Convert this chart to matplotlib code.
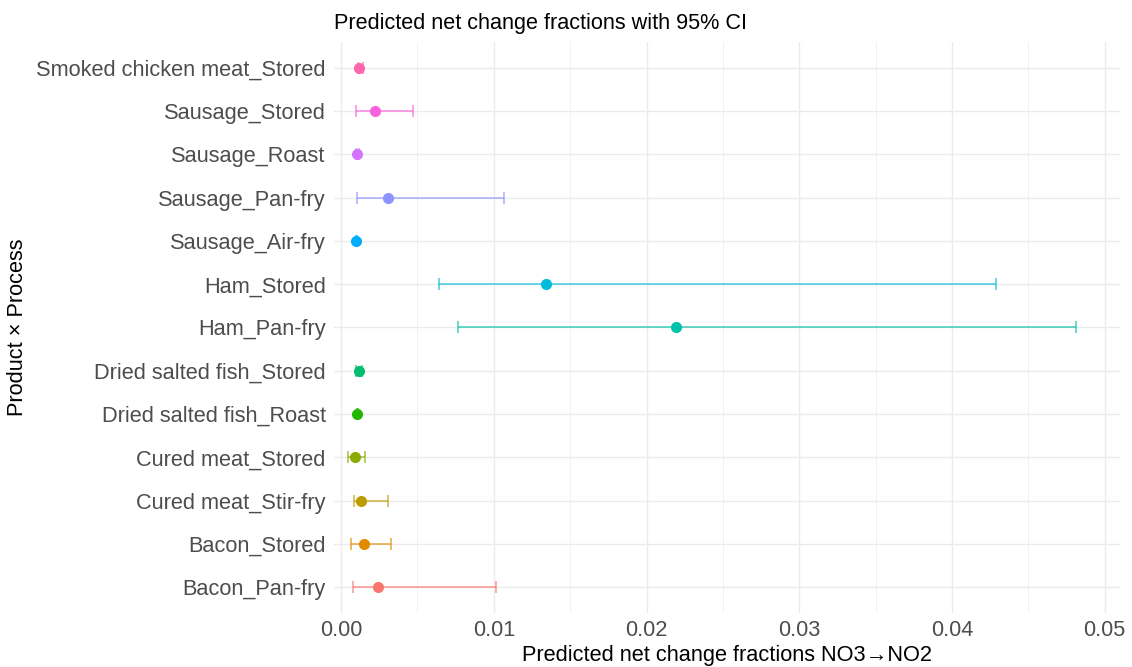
import matplotlib
matplotlib.use("Agg")
import matplotlib.pyplot as plt
from matplotlib.ticker import MultipleLocator

# Data (bottom to top)
categories = [
    "Bacon_Pan-fry", "Bacon_Stored", "Cured meat_Stir-fry", "Cured meat_Stored",
    "Dried salted fish_Roast", "Dried salted fish_Stored", "Ham_Pan-fry", "Ham_Stored",
    "Sausage_Air-fry", "Sausage_Pan-fry", "Sausage_Roast", "Sausage_Stored",
    "Smoked chicken meat_Stored",
]
estimate = [0.00245, 0.00153, 0.00131, 0.00090, 0.00107, 0.00116, 0.02190, 0.01343,
            0.00101, 0.00308, 0.00107, 0.00223, 0.00120]
ci_low = [0.00079, 0.00066, 0.00085, 0.00048, 0.00102, 0.00100, 0.00764, 0.00642,
          0.00097, 0.00103, 0.00098, 0.00101, 0.00108]
ci_high = [0.01014, 0.00330, 0.00310, 0.00155, 0.00112, 0.00135, 0.04810, 0.04290,
           0.00105, 0.01068, 0.00118, 0.00472, 0.00145]
colors = ["#F8766D", "#E18A00", "#BE9C00", "#8CAB00", "#24B700", "#00BE70", "#00C1AB",
          "#00BBDA", "#00ACFC", "#8B93FF", "#D575FE", "#F962DD", "#FF65AC"]
x_ticks = [0.00, 0.01, 0.02, 0.03, 0.04, 0.05]
x_tick_labels = ["0.00", "0.01", "0.02", "0.03", "0.04", "0.05"]

plt.rcParams['font.family'] = ['Liberation Sans', 'DejaVu Sans']

W, H = 1132, 667
fig = plt.figure(figsize=(W / 100, H / 100), dpi=100)
left, right, top, bottom = 334, 1120, 42, 613
ax = fig.add_axes([left / W, (H - bottom) / H, (right - left) / W, (bottom - top) / H])

ypos = list(range(1, len(categories) + 1))
for y, e, lo, hi, c in zip(ypos, estimate, ci_low, ci_high, colors):
    ax.errorbar([e], [y], xerr=[[e - lo], [hi - e]], fmt='none', ecolor=c,
                elinewidth=1.1, capsize=4, capthick=1.1, alpha=0.75, zorder=3)
    ax.plot([e], [y], 'o', color=c, ms=8, mec='none', zorder=4)

ax.set_xlim(-0.00046, 0.0510)
ax.set_ylim(0.4, len(categories) + 0.6)
ax.set_yticks(ypos)
ax.set_yticklabels(categories)
ax.set_xticks(x_ticks)
ax.set_xticklabels(x_tick_labels)
ax.xaxis.set_minor_locator(MultipleLocator(0.005))

for s in ax.spines.values():
    s.set_visible(False)
ax.tick_params(axis='both', which='both', length=0, labelsize=15.7, labelcolor='#4D4D4D')
ax.tick_params(axis='y', pad=6)
ax.tick_params(axis='x', pad=5)
ax.grid(True, which='major', color='#EBEBEB', lw=1.0, zorder=0)
ax.grid(True, which='minor', axis='x', color='#F2F2F2', lw=0.7, zorder=0)
ax.set_axisbelow(True)

ax.set_xlabel("Predicted net change fractions NO3\u2192NO2", fontsize=15.7, color='black', labelpad=3)
ax.set_ylabel("Product \u00d7 Process", fontsize=15.7, color='black', labelpad=6)
ax.set_title("Predicted net change fractions with 95% CI", fontsize=15.6, color='black',
             loc='left', pad=9)

fig.savefig("out.png", dpi=100)
